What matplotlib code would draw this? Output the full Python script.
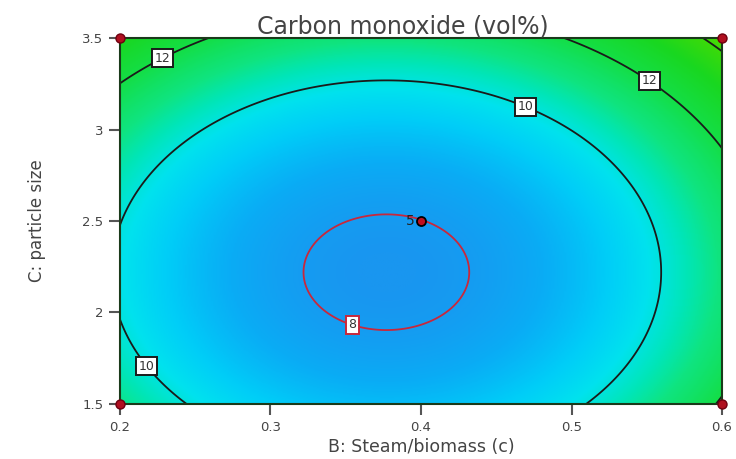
import numpy as np
import matplotlib
matplotlib.use("Agg")
import matplotlib.pyplot as plt
from matplotlib.colors import LinearSegmentedColormap

# quadratic response surface for CO (vol%) vs B and C
co_min = 7.80
b_center = 0.377
c_center = 2.22
b_coef = 66.0
c_coef = 2.0

# contour levels and label positions
levels = [8, 10, 12, 14]
level_colors = ["#c8283c", "#1a1a1a", "#1a1a1a", "#1a1a1a"]
label_pos = [(0.3555, 1.965), (0.4705, 3.15), (0.2246, 1.75),
             (0.2246, 3.445), (0.552, 3.27)]

# design points
corner_b = [0.2, 0.2, 0.6, 0.6]
corner_c = [1.5, 3.5, 1.5, 3.5]
center_b = [0.4]
center_c = [2.5]
center_reps = "5"

xticks = [0.2, 0.3, 0.4, 0.5, 0.6]
yticks = [1.5, 2, 2.5, 3, 3.5]

b = np.linspace(0.2, 0.6, 400)
c = np.linspace(1.5, 3.5, 400)
B, C = np.meshgrid(b, c)
Z = co_min + b_coef * (B - b_center) ** 2 + c_coef * (C - c_center) ** 2

# blue -> cyan -> green shading
vmin, vmax = 7.8, 14.4
nodes = [(7.8, (25, 150, 240)), (8.5, (10, 172, 245)),
         (9.2, (0, 205, 248)), (9.8, (0, 226, 238)),
         (10.4, (0, 230, 185)), (11.0, (15, 228, 128)),
         (12.0, (20, 222, 70)), (13.1, (25, 215, 32)),
         (14.4, (75, 220, 0))]
cmap = LinearSegmentedColormap.from_list(
    "co", [((v - vmin) / (vmax - vmin), tuple(x / 255 for x in col))
           for v, col in nodes])

fig = plt.figure(figsize=(7.36, 4.59), dpi=100)
ax = fig.add_axes([0.163, 0.120, 0.818, 0.797])

ax.imshow(Z, extent=[0.2, 0.6, 1.5, 3.5], origin="lower", aspect="auto",
          cmap=cmap, vmin=vmin, vmax=vmax, interpolation="bilinear")
cs = ax.contour(B, C, Z, levels=levels, colors=level_colors, linewidths=1.3)
labels = ax.clabel(cs, levels=[8, 10, 12], fmt="%d", fontsize=9,
                   manual=label_pos, inline=True, inline_spacing=1)
for t in labels:
    edge = "#c8283c" if t.get_text() == "8" else "#1a1a1a"
    t.set_rotation(0)
    t.set_color("#333333")
    t.set_bbox(dict(boxstyle="square,pad=0.2", fc="white", ec=edge, lw=1.4))

ax.plot(corner_b, corner_c, "o", color="#b01020", mec="#700010",
        ms=6.5, clip_on=False, zorder=5)
ax.plot(center_b, center_c, "o", color="#c01020", mec="black",
        ms=6.5, mew=1.3, zorder=5)
ax.text(center_b[0] - 0.004, center_c[0], center_reps, ha="right",
        va="center", fontsize=10, color="#222222")

ax.set_xlim(0.2, 0.6)
ax.set_ylim(1.5, 3.5)
ax.set_xticks(xticks)
ax.set_xticklabels(["0.2", "0.3", "0.4", "0.5", "0.6"])
ax.set_yticks(yticks)
ax.set_yticklabels(["1.5", "2", "2.5", "3", "3.5"])
ax.tick_params(direction="out", length=8, width=1.5, color="#555555",
               labelcolor="#444444", labelsize=9.5, pad=4)
for s in ax.spines.values():
    s.set_color("#1a3a1a")
    s.set_linewidth(1.5)

ax.set_title("Carbon monoxide (vol%)", fontsize=17, color="#444444",
             x=0.47, pad=3)
ax.set_xlabel("B: Steam/biomass (c)", fontsize=12.5, color="#444444",
              labelpad=3)
ax.set_ylabel("C: particle size", fontsize=12, color="#444444",
              labelpad=26)

fig.savefig("out.png", dpi=100)
